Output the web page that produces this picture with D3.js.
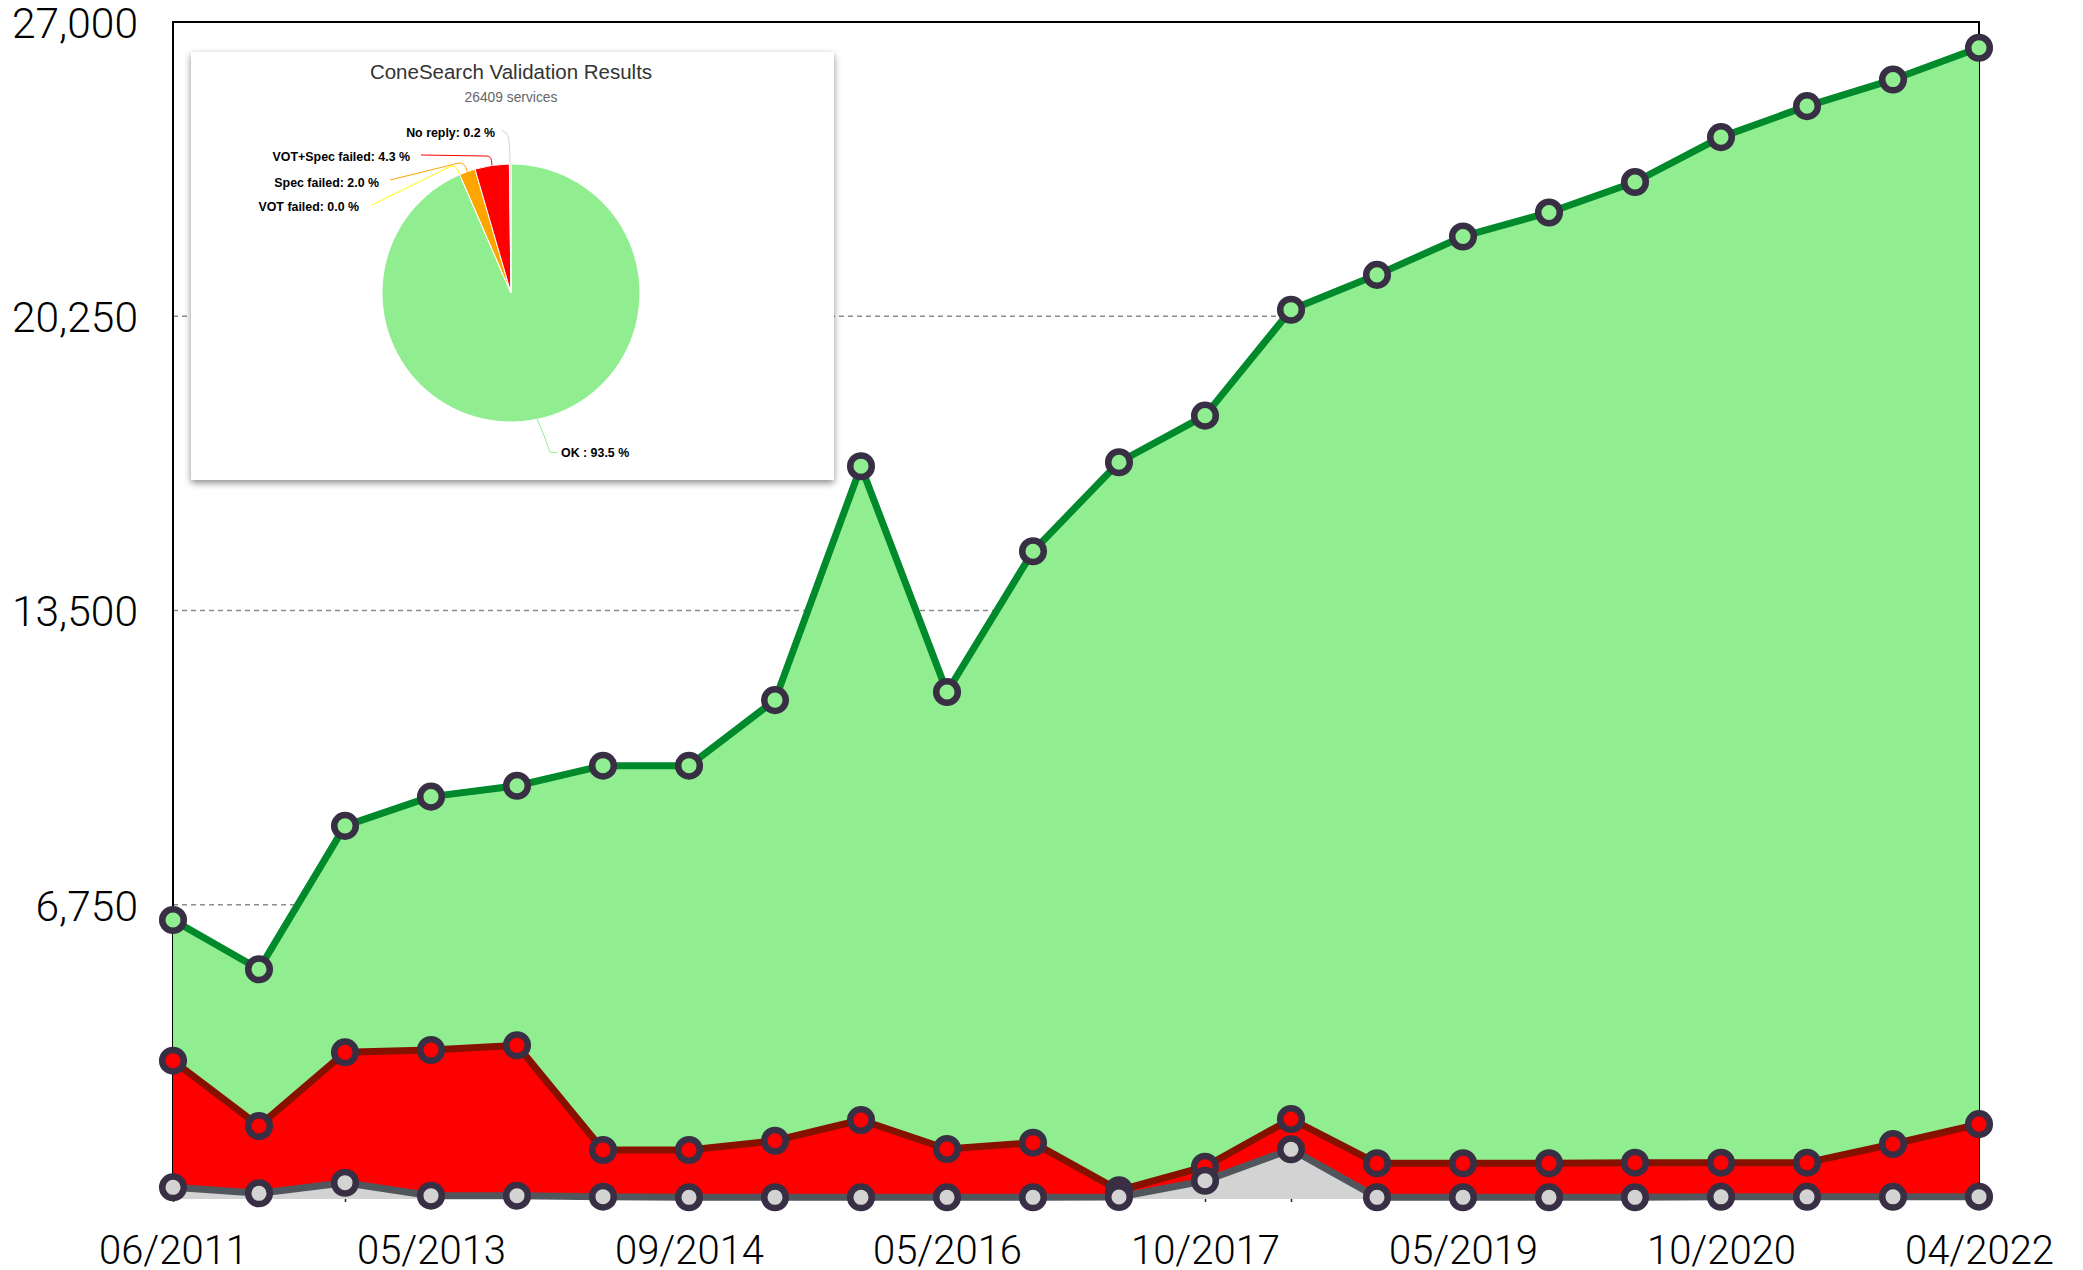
<!doctype html>
<html>
<head>
<meta charset="utf-8">
<script src="https://cdn.jsdelivr.net/npm/d3@7"></script>
<style>
  body { margin: 0; background: #fff; }
  svg { display: block; }
  .axis text { font-family: Roboto, "Liberation Sans", sans-serif; font-weight: 300; fill: #000; }
</style>
</head>
<body>
<div id="container"></div>
<script>
// one entry per survey, only every third date is labelled on the axis
var tickLabels = ["06/2011", "", "", "05/2013", "", "", "09/2014", "", "", "05/2016", "", "",
                  "10/2017", "", "", "05/2019", "", "", "10/2020", "", "", "04/2022"];
// number of services (cumulative from the bottom)
var totalServices = [6400, 5270, 8560, 9230, 9480, 9940, 9940, 11445, 16810, 11630, 14860,
                     16900, 17970, 20400, 21200, 22080, 22630, 23330, 24360, 25070, 25680, 26409];
var failedServices = [3173, 1675, 3365, 3418, 3526, 1124, 1124, 1337, 1812, 1147, 1292,
                      200, 741, 1835, 819, 819, 819, 833, 833, 833, 1262, 1717];
var noReplyServices = [268, 131, 374, 76, 76, 53, 39, 39, 39, 39, 39,
                       46, 420, 1140, 39, 39, 39, 39, 50, 50, 50, 53];
var yTicks = [6750, 13500, 20250, 27000];

// inset pie (last survey)
var pieNames = ["OK", "VOT failed", "Spec failed", "VOT+Spec failed", "No reply"];
var piePercent = [93.5, 0.0, 2.0, 4.3, 0.2];
var pieColors = ["#90ee90", "#ffff00", "#ffa500", "#ff0000", "#d3d3d3"];
var pieTitle = "ConeSearch Validation Results";
var pieSubtitle = "26409 services";

(function(){
var W = 2083, H = 1270;
var pLeft = 173, pRight = 1979, pTop = 22, pBottom = 1199;

var svg = d3.select("#container").append("svg")
  .attr("width", W).attr("height", H);

var idx = d3.range(tickLabels.length);
var x = d3.scalePoint().domain(idx).range([pLeft, pRight]);
var y = d3.scaleLinear().domain([0, 27000]).range([pBottom, pTop]);

// grid + frame (sit behind the areas)
svg.append("g").selectAll("line")
  .data(yTicks.slice(0, 3))
  .enter().append("line")
  .attr("x1", pLeft).attr("x2", pRight)
  .attr("y1", function(d){ return y(d); })
  .attr("y2", function(d){ return y(d); })
  .attr("stroke", "#8c8c8c").attr("stroke-width", 1.5)
  .attr("stroke-dasharray", "5,4");

svg.append("path")
  .attr("d", "M" + pLeft + "," + pBottom + "V" + pTop + "H" + pRight + "V" + pBottom)
  .attr("fill", "none").attr("stroke", "#000").attr("stroke-width", 2);

var series = [
  {values: totalServices, fill: "#90ee90", line: "#008a2b"},
  {values: failedServices, fill: "#ff0000", line: "#871100"},
  {values: noReplyServices, fill: "#d3d3d3", line: "#51565d"}
];

var area = function(vals){
  return d3.area()
    .x(function(d, i){ return x(i); })
    .y0(y(0))
    .y1(function(d){ return y(d); })(vals);
};
var line = function(vals){
  return d3.line()
    .x(function(d, i){ return x(i); })
    .y(function(d){ return y(d); })(vals);
};

series.forEach(function(s){
  svg.append("path").attr("d", area(s.values)).attr("fill", s.fill);
});

// small ticks under the baseline
svg.append("g")
  .attr("transform", "translate(0," + pBottom + ")")
  .call(d3.axisBottom(x).tickSize(3).tickFormat(""))
  .call(function(g){ g.select(".domain").remove(); })
  .selectAll("line").attr("stroke", "#222").attr("stroke-width", 1.5);

series.forEach(function(s){
  svg.append("path").attr("d", line(s.values))
    .attr("fill", "none").attr("stroke", s.line)
    .attr("stroke-width", 7).attr("stroke-linejoin", "round");
});

series.forEach(function(s){
  svg.append("g").selectAll("circle")
    .data(s.values)
    .enter().append("circle")
    .attr("cx", function(d, i){ return x(i); })
    .attr("cy", function(d){ return y(d); })
    .attr("r", 10.8)
    .attr("fill", s.fill)
    .attr("stroke", "#382f44")
    .attr("stroke-width", 6.5);
});

// axes
var yAxis = svg.append("g")
  .attr("class", "axis")
  .attr("transform", "translate(" + pLeft + ",0)")
  .call(d3.axisLeft(y).tickValues(yTicks).tickFormat(d3.format(",")).tickSize(0).tickPadding(35));
yAxis.select(".domain").remove();
yAxis.selectAll("text").attr("font-size", 42.5).attr("dy", "0.36em");

var xAxis = svg.append("g")
  .attr("class", "axis")
  .attr("transform", "translate(0," + pBottom + ")")
  .call(d3.axisBottom(x)
    .tickValues(idx.filter(function(i){ return tickLabels[i] !== ""; }))
    .tickFormat(function(i){ return tickLabels[i]; })
    .tickSize(0).tickPadding(37));
xAxis.select(".domain").remove();
xAxis.selectAll("text").attr("font-size", 40);

// ---- inset with the pie ----
var defs = svg.append("defs");
var f = defs.append("filter").attr("id", "shadow")
  .attr("x", "-5%").attr("y", "-5%").attr("width", "110%").attr("height", "115%");
f.append("feDropShadow").attr("dx", 0).attr("dy", 3)
  .attr("stdDeviation", 3.5).attr("flood-color", "#000").attr("flood-opacity", 0.45);

var box = {x: 191, y: 52, w: 643, h: 428};
var inset = svg.append("g");
inset.append("rect")
  .attr("x", box.x).attr("y", box.y).attr("width", box.w).attr("height", box.h)
  .attr("fill", "#fff").attr("filter", "url(#shadow)");

var cx = 511, cy = 293, r = 129;
inset.append("text")
  .attr("x", cx).attr("y", 79).attr("text-anchor", "middle")
  .attr("font-family", "'Liberation Sans', Arial, sans-serif")
  .attr("font-size", 20.5).attr("fill", "#333")
  .text(pieTitle);
inset.append("text")
  .attr("x", cx).attr("y", 102).attr("text-anchor", "middle")
  .attr("font-family", "'Liberation Sans', Arial, sans-serif")
  .attr("font-size", 13.8).attr("fill", "#666")
  .text(pieSubtitle);

var arcs = d3.pie().sort(null).value(function(d){ return d; })(piePercent);
var arc = d3.arc().innerRadius(0).outerRadius(r);
var pg = inset.append("g").attr("transform", "translate(" + cx + "," + cy + ")");
pg.selectAll("path")
  .data(arcs)
  .enter().append("path")
  .attr("d", arc)
  .attr("fill", function(d, i){ return pieColors[i]; })
  .attr("stroke", "#fff").attr("stroke-width", 1)
  .attr("stroke-linejoin", "round");

// label placement for each slice: text end/start and the elbow of the connector
var labelLayout = [
  {tx: 561, ty: 457, anchor: "start", lx: 557, ly: 453, bx: 550, by: 452},
  {tx: 359, ty: 211, anchor: "end", lx: 372, ly: 205, bx: 455, by: 166},
  {tx: 379, ty: 187, anchor: "end", lx: 390, ly: 180, bx: 463, by: 163},
  {tx: 410, ty: 161, anchor: "end", lx: 421, ly: 155, bx: 490, by: 156},
  {tx: 495, ty: 137, anchor: "end", lx: 502, ly: 130, bx: 508, by: 132}
];

arcs.forEach(function(a, i){
  var L = labelLayout[i];
  var mid = (a.startAngle + a.endAngle) / 2;
  var px = cx + r * Math.sin(mid), py = cy - r * Math.cos(mid);
  var p = d3.path();
  p.moveTo(L.lx, L.ly);
  p.lineTo(L.bx + (L.anchor === "end" ? -4 : 0), L.by);
  p.quadraticCurveTo(L.bx + (L.anchor === "end" ? 1 : 0), L.by, (L.bx + px) / 2 + 0.5, (L.by + py) / 2);
  p.lineTo(px, py);
  inset.append("path").attr("d", p.toString())
    .attr("fill", "none").attr("stroke", pieColors[i]).attr("stroke-width", 1);
  inset.append("text")
    .attr("x", L.tx).attr("y", L.ty).attr("text-anchor", L.anchor)
    .attr("font-family", "'Liberation Sans', Arial, sans-serif")
    .attr("font-size", 12.4).attr("font-weight", "bold").attr("fill", "#000")
    .text(pieNames[i] + (i === 0 ? " : " : ": ") + d3.format(".1f")(piePercent[i]) + " %");
});
})();
</script>
</body>
</html>
